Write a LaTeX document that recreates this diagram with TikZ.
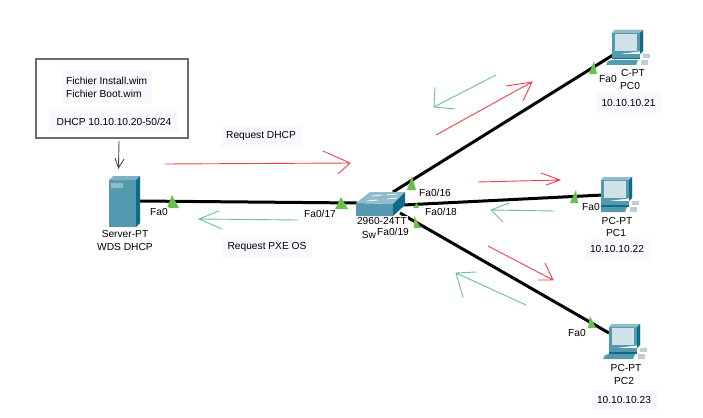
\documentclass[tikz,border=0pt]{standalone}
\usepackage{fontspec}
\setmainfont{Liberation Sans}
\definecolor{srv}{HTML}{5599B0}
\definecolor{srvd}{HTML}{0F6C86}
\definecolor{srvl}{HTML}{8FBCCB}
\definecolor{scr}{HTML}{CFE2EA}
\definecolor{lab}{HTML}{F8F9FF}
\definecolor{tri}{HTML}{6CBF4B}
\definecolor{redl}{HTML}{F2404A}
\definecolor{grnl}{HTML}{6FBF97}
\tikzset{
 x=1pt,y=-1pt,
 lnk/.style={line width=3pt,black},
 redarrow/.style={redl,line width=.9pt},
 grnarrow/.style={grnl,line width=.9pt},
 txt/.style={font=\fontsize{10.2pt}{13pt}\selectfont,inner sep=0pt,align=center,text=black},
 plab/.style={txt,fill=white,inner sep=1pt},
 note/.style={txt,fill=lab,inner sep=0pt},
 tritip/.style={fill=tri,draw=none}
}
\newcommand{\pcicon}[2]{%
 \begin{scope}[shift={(#1,#2)}]
  \fill[srv] (-13,-15) -- (-10,-18) -- (18,-18) -- (18,3) -- (-13,7) -- cycle;
  \fill[srvl] (-13,-15) -- (-10,-18) -- (18,-18) -- (15,-15) -- cycle;
  \fill[srvd] (15,-15) -- (18,-18) -- (18,3) -- (15,6) -- cycle;
  \fill[scr] (-10,-14) rectangle (12,3);
  \fill[srv] (-13,6) rectangle (15,10);
  \fill[srvd] (-13,10) rectangle (15,11.5);
  \fill[srv] (-17,13) -- (-13,12) -- (13,12) -- (11,17) -- (-19,17) -- cycle;
  \fill[scr!80!gray] (18,6) rectangle (25,10);
  \fill[scr!80!gray] (16,12) rectangle (23,17);
 \end{scope}}
\begin{document}
\begin{tikzpicture}
\useasboundingbox (0,0) rectangle (703,417);
\fill[white] (0,0) rectangle (703,417);
\coordinate (srvport) at (139,201);
\coordinate (swl) at (357,203);
\coordinate (swa) at (393,192);
\coordinate (swb) at (403,205);
\coordinate (swc) at (400,213);
\coordinate (pc0p) at (613,55);
\coordinate (pc1p) at (603,195);
\coordinate (pc2p) at (609,333);
% links
\draw[lnk] (srvport) -- (swl);
\draw[lnk] (swa) -- (pc0p);
\draw[lnk] (swb) -- (pc1p);
\draw[lnk] (swc) -- (pc2p);
% server
\fill[srv] (109,180) rectangle (136,227);
\fill[srvl!70!srv] (109,180) -- (113,176) -- (140,176) -- (136,180) -- cycle;
\fill[srvd] (136,180) -- (140,176) -- (140,223) -- (136,227) -- cycle;
\fill[srvl] (111,183) rectangle (123,188);
% switch label under the switch
\node[plab] (sw1) at (382,220.5) {2960-24TT};
\node[plab] (sw2) at (369,235) {Sw};
% switch
\fill[srv] (356,203) -- (393,204) -- (393,216) -- (356,216) -- cycle;
\fill[srvl] (356,203) -- (370,192) -- (405,192) -- (393,204) -- cycle;
\fill[srvd] (393,204) -- (405,192) -- (405,205) -- (393,216) -- cycle;
\draw[white,line width=.7pt] (372,196) -- (382,195) (387,195) -- (397,194) (367,201) -- (378,200) (387,199) -- (397,198);
% pcs
\pcicon{625}{48}
\pcicon{614}{195}
\pcicon{622}{342}
% triangles
\fill[tritip] (172,195) -- (167,208) -- (179,208) -- cycle;
\fill[tritip] (341,197) -- (335,209) -- (348,209) -- cycle;
\fill[tritip] (412,176) -- (407,190) -- (416,190) -- cycle;
\fill[tritip] (416.7,203) -- (413,208) -- (419,208) -- cycle;
\fill[tritip] (414,216) -- (414,228) -- (421,228) -- cycle;
\fill[tritip] (594,61) -- (589,74) -- (597,74) -- cycle;
\fill[tritip] (576,190) -- (570,203) -- (578,203) -- cycle;
\fill[tritip] (590,316) -- (588,328) -- (596,328) -- cycle;
% device labels
\node[txt] (srvn) at (125,240.5) {Server-PT\\WDS DHCP};
\node[txt] (pc0a) at (633,73) {C-PT};
\node[txt] (pc0b) at (630,86) {PC0};
\node[note,minimum width=65pt,minimum height=21pt] (ip0) at (628.5,102.5) {10.10.10.21};
\node[txt] (pc1a) at (617,221) {PC-PT};
\node[txt] (pc1b) at (616,233) {PC1};
\node[note,minimum width=65pt,minimum height=21pt] (ip1) at (617,249) {10.10.10.22};
\node[txt] (pc2a) at (626,368) {PC-PT};
\node[txt] (pc2b) at (624,381) {PC2};
\node[note,minimum width=65pt,minimum height=20pt] (ip2) at (624,400) {10.10.10.23};
% port labels
\node[plab] (l1) at (159,212) {Fa0};
\node[plab] (l2) at (320,214) {Fa0/17};
\node[plab] (l3) at (435,193) {Fa0/16};
\node[plab] (l4) at (441,212) {Fa0/18};
\node[plab] (l5) at (393,232) {Fa0/19};
\node[plab] (l6) at (608,79) {Fa0};
\node[plab] (l7) at (591,207) {Fa0};
\node[plab] (l8) at (577,333) {Fa0};
% note box
\draw[gray!85!black,line width=1.3pt] (36,59) rectangle (188,138);
\fill[lab] (62,70) rectangle (152,103);
\node[txt,align=left,anchor=west] (files) at (66,87.3) {Fichier Install.wim\\Fichier Boot.wim};
\node[note,minimum width=130pt,minimum height=21pt] (dhcp) at (114,121.5) {DHCP 10.10.10.20-50/24};
\coordinate (a0) at (119,141);
\coordinate (a1) at (118.5,168);
\coordinate (a2) at (115,158);
\coordinate (a3) at (124,159);
\draw[black!70,line width=.9pt] (a0) -- (a1) (a2) -- (a1) -- (a3);
\node[note,minimum width=81pt,minimum height=21pt] (req1) at (261,136) {Request DHCP};
\node[note,minimum width=90pt,minimum height=21pt] (req2) at (267,247) {Request PXE OS};
% traffic arrows: tail, tip, two barbs
\foreach \t/\h/\u/\v in {
  {(165,164)}/{(350,163)}/{(323,151)}/{(338,174)},
  {(436,135)}/{(532,82)}/{(506,86)}/{(523,101)},
  {(478,182)}/{(560,180)}/{(541,173)}/{(546,185)},
  {(488,246)}/{(553,280)}/{(545,263)}/{(538,280)}}
  \draw[redarrow] \t -- \h \u -- \h -- \v;
\foreach \t/\h/\u/\v in {
  {(298,220)}/{(199,219)}/{(219,211)}/{(222,229)},
  {(496,75)}/{(434,107)}/{(435,87)}/{(455,109)},
  {(554,211)}/{(491,210)}/{(509,203)}/{(503,222)},
  {(526,305)}/{(456,273)}/{(476,272)}/{(463,297)}}
  \draw[grnarrow] \t -- \h \u -- \h -- \v;
\end{tikzpicture}
\end{document}
